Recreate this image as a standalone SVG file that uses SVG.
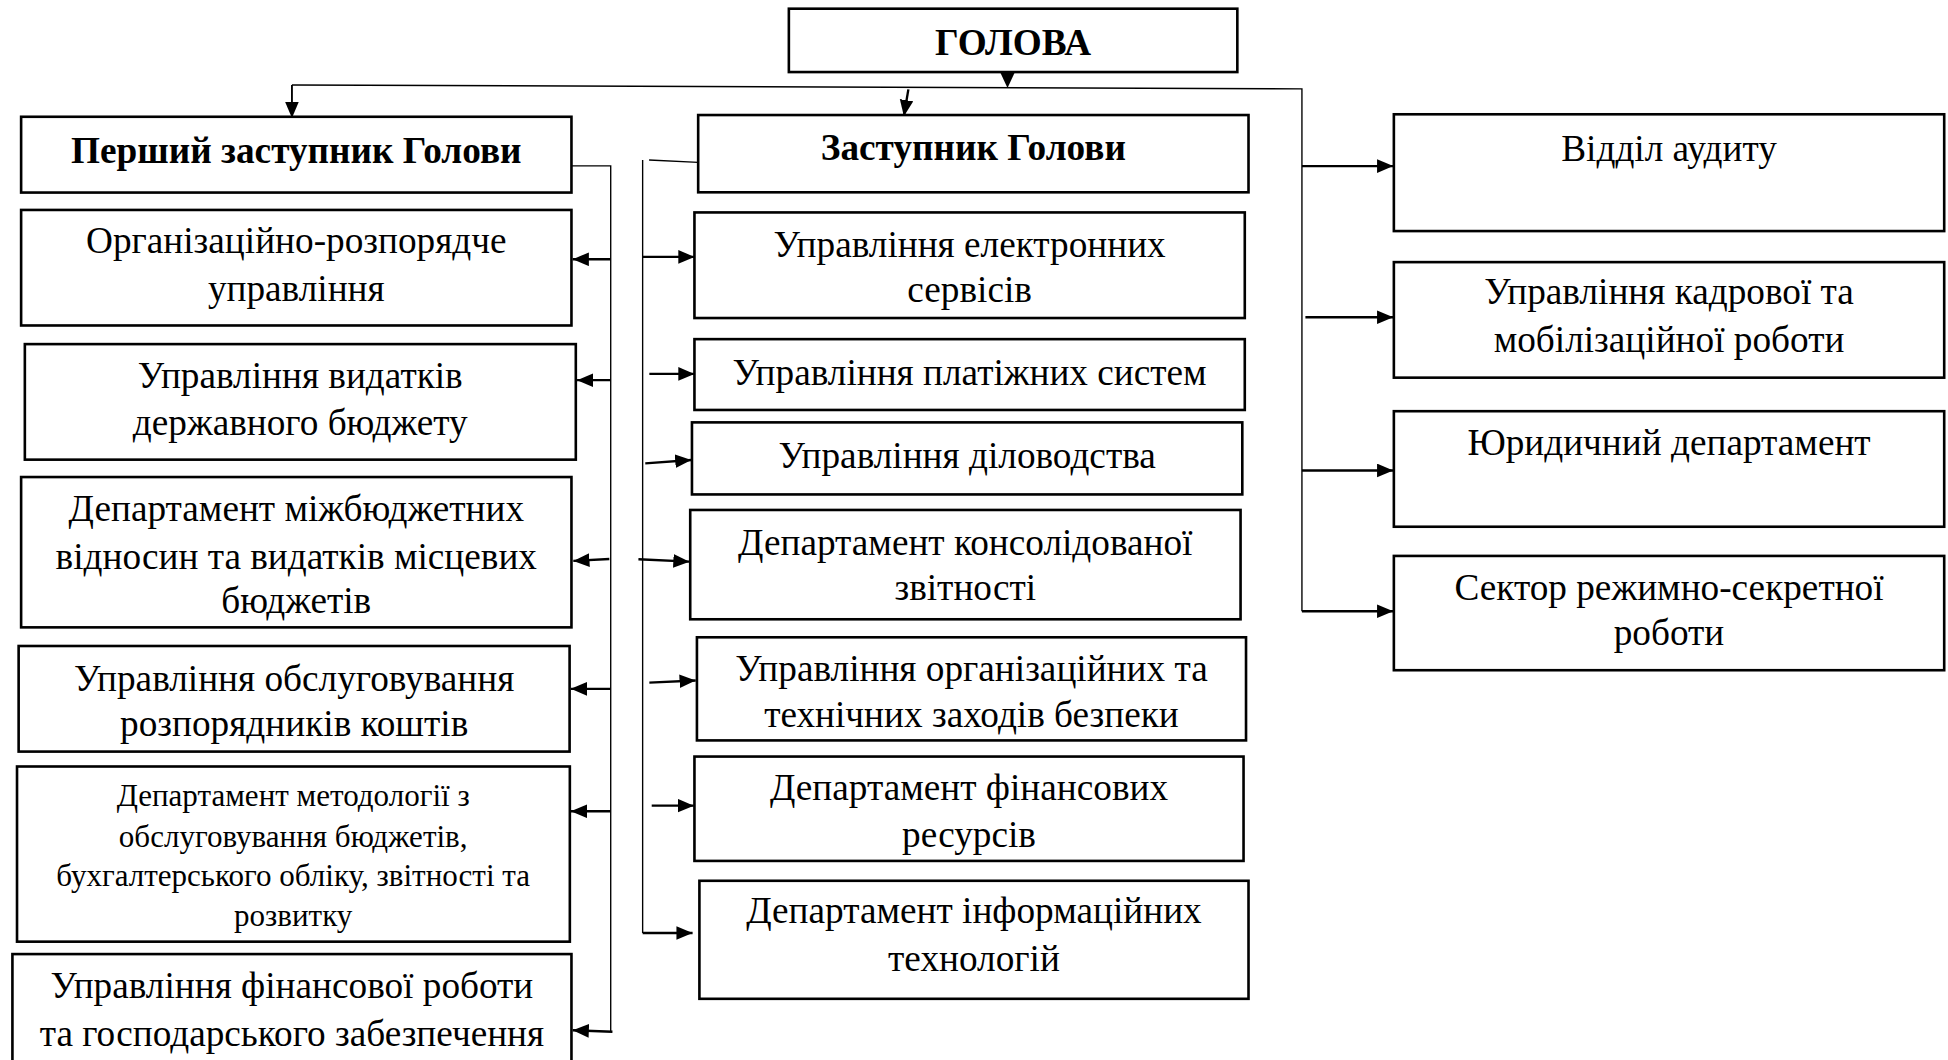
<svg xmlns="http://www.w3.org/2000/svg" width="1948" height="1060" viewBox="0 0 1948 1060">
<defs>
<style>
.box{fill:#fff;stroke:#000;stroke-width:2.1}
.t{font-family:"Liberation Serif","Times New Roman",serif;font-size:30px;fill:#000;text-anchor:middle}
.b{font-weight:bold}
.s{font-size:25px}
.thin{fill:none;stroke:#000;stroke-width:1.1}
.arr{fill:none;stroke:#000;stroke-width:1.9;marker-end:url(#ah)}
</style>
<marker id="ah" markerUnits="userSpaceOnUse" markerWidth="14" markerHeight="12" refX="13" refY="5.5" orient="auto">
<path d="M0,0 L13,5.5 L0,11 z" fill="#000"/>
</marker>
</defs>
<rect width="1948" height="1060" fill="#fff"/>
<g transform="scale(1.2423)">
<g id="connectors">
<path class="thin" d="M235,68.4 L1048,71.5 L1048,492"/>
<polygon points="805,58 817,58 811,70.8" fill="#000"/>
<line class="arr" x1="235" y1="68.4" x2="235" y2="95" style="stroke-width:1.5"/>
<line class="arr" x1="731.2" y1="71.9" x2="727.6" y2="93.5"/>
<path class="thin" d="M460,133.5 L491.6,133.5 L491.6,830.5"/>
<line class="arr" x1="491.6" y1="208.7" x2="461" y2="208.7"/>
<line class="arr" x1="491.6" y1="306" x2="464.5" y2="306"/>
<line class="arr" x1="490.5" y1="450" x2="461.5" y2="451.5"/>
<line class="arr" x1="491.6" y1="554.5" x2="459.5" y2="554.5"/>
<line class="arr" x1="491.6" y1="653" x2="459.5" y2="653"/>
<line class="arr" x1="493" y1="830.5" x2="461" y2="829.3"/>
<line class="thin" x1="522.5" y1="128.8" x2="562" y2="130.7"/>
<line class="thin" x1="517.3" y1="128.8" x2="517.3" y2="751"/>
<line class="arr" x1="517.3" y1="206.8" x2="559" y2="206.8"/>
<line class="arr" x1="522.7" y1="301" x2="559" y2="301"/>
<line class="arr" x1="519.4" y1="373" x2="556.5" y2="370.3"/>
<line class="arr" x1="513.9" y1="450.2" x2="555" y2="452.1"/>
<line class="arr" x1="522.7" y1="549.5" x2="560" y2="547.8"/>
<line class="arr" x1="524.6" y1="648.5" x2="558.5" y2="648.5"/>
<line class="arr" x1="517.3" y1="751" x2="557.5" y2="751"/>
<line class="arr" x1="1048" y1="133.7" x2="1121.5" y2="133.7"/>
<line class="arr" x1="1050.8" y1="255.4" x2="1121.5" y2="255.4"/>
<line class="arr" x1="1048" y1="378.7" x2="1121.5" y2="378.7"/>
<line class="arr" x1="1048" y1="492" x2="1121.5" y2="492"/>
</g>
<g id="holova"><rect class="box" x="635" y="7" width="361" height="51"/><text class="t b" x="815.5" y="44.5">ГОЛОВА</text></g>
<g id="pershyi"><rect class="box" x="17" y="94" width="443" height="61"/><text class="t b" x="238.5" y="131.5">Перший заступник Голови</text></g>
<g id="zastupnyk"><rect class="box" x="562" y="92.6" width="443" height="62.2"/><text class="t b" x="783.5" y="129">Заступник Голови</text></g>
<g id="org"><rect class="box" x="17" y="169" width="443" height="93"/><text class="t" x="238.5" y="204">Організаційно-розпорядче</text><text class="t" x="238.5" y="242">управління</text></g>
<g id="vydatky"><rect class="box" x="20" y="277" width="443.5" height="93"/><text class="t" x="241.7" y="312.6">Управління видатків</text><text class="t" x="241.7" y="350.2">державного бюджету</text></g>
<g id="mizhbudzh"><rect class="box" x="17" y="384" width="443" height="121"/><text class="t" x="238.5" y="419.6">Департамент міжбюджетних</text><text class="t" x="238.5" y="458">відносин та видатків місцевих</text><text class="t" x="238.5" y="493.5">бюджетів</text></g>
<g id="obsl"><rect class="box" x="15" y="520" width="443.5" height="85"/><text class="t" x="236.8" y="556.6">Управління обслуговування</text><text class="t" x="236.8" y="592.7">розпорядників коштів</text></g>
<g id="metod"><rect class="box" x="13.7" y="617" width="445" height="141"/><text class="t s" x="236" y="649">Департамент методології з</text><text class="t s" x="236" y="681.4">обслуговування бюджетів,</text><text class="t s" x="236" y="713">бухгалтерського обліку, звітності та</text><text class="t s" x="236" y="745.5">розвитку</text></g>
<g id="finrob"><rect class="box" x="10" y="768" width="450" height="100"/><text class="t" x="235" y="803">Управління фінансової роботи</text><text class="t" x="235" y="841.6">та господарського забезпечення</text></g>
<g id="elserv"><rect class="box" x="559" y="171" width="443" height="85"/><text class="t" x="780.5" y="206.6">Управління електронних</text><text class="t" x="780.5" y="242.8">сервісів</text></g>
<g id="plat"><rect class="box" x="559" y="273" width="443" height="57"/><text class="t" x="780.5" y="310">Управління платіжних систем</text></g>
<g id="dilov"><rect class="box" x="557" y="340" width="443" height="58"/><text class="t" x="778.5" y="377">Управління діловодства</text></g>
<g id="konsol"><rect class="box" x="555.6" y="410.5" width="443" height="88"/><text class="t" x="777" y="446.8">Департамент консолідованої</text><text class="t" x="777" y="483">звітності</text></g>
<g id="bezpeka"><rect class="box" x="561" y="513" width="442" height="83"/><text class="t" x="782" y="548">Управління організаційних та</text><text class="t" x="782" y="585">технічних заходів безпеки</text></g>
<g id="finres"><rect class="box" x="559" y="609" width="442" height="84"/><text class="t" x="780" y="644">Департамент фінансових</text><text class="t" x="780" y="681.5">ресурсів</text></g>
<g id="it"><rect class="box" x="563" y="709" width="442" height="95"/><text class="t" x="784" y="743">Департамент інформаційних</text><text class="t" x="784" y="782">технологій</text></g>
<g id="audyt"><rect class="box" x="1122" y="92" width="443" height="94"/><text class="t" x="1343.5" y="129.7">Відділ аудиту</text></g>
<g id="kadry"><rect class="box" x="1122" y="211" width="443" height="93"/><text class="t" x="1343.5" y="244.6">Управління кадрової та</text><text class="t" x="1343.5" y="283.7">мобілізаційної роботи</text></g>
<g id="yuryd"><rect class="box" x="1122" y="331" width="443" height="93"/><text class="t" x="1343.5" y="366.3">Юридичний департамент</text></g>
<g id="sektor"><rect class="box" x="1122" y="447.5" width="443" height="92"/><text class="t" x="1343.5" y="482.7">Сектор режимно-секретної</text><text class="t" x="1343.5" y="518.8">роботи</text></g>
</g>
</svg>
